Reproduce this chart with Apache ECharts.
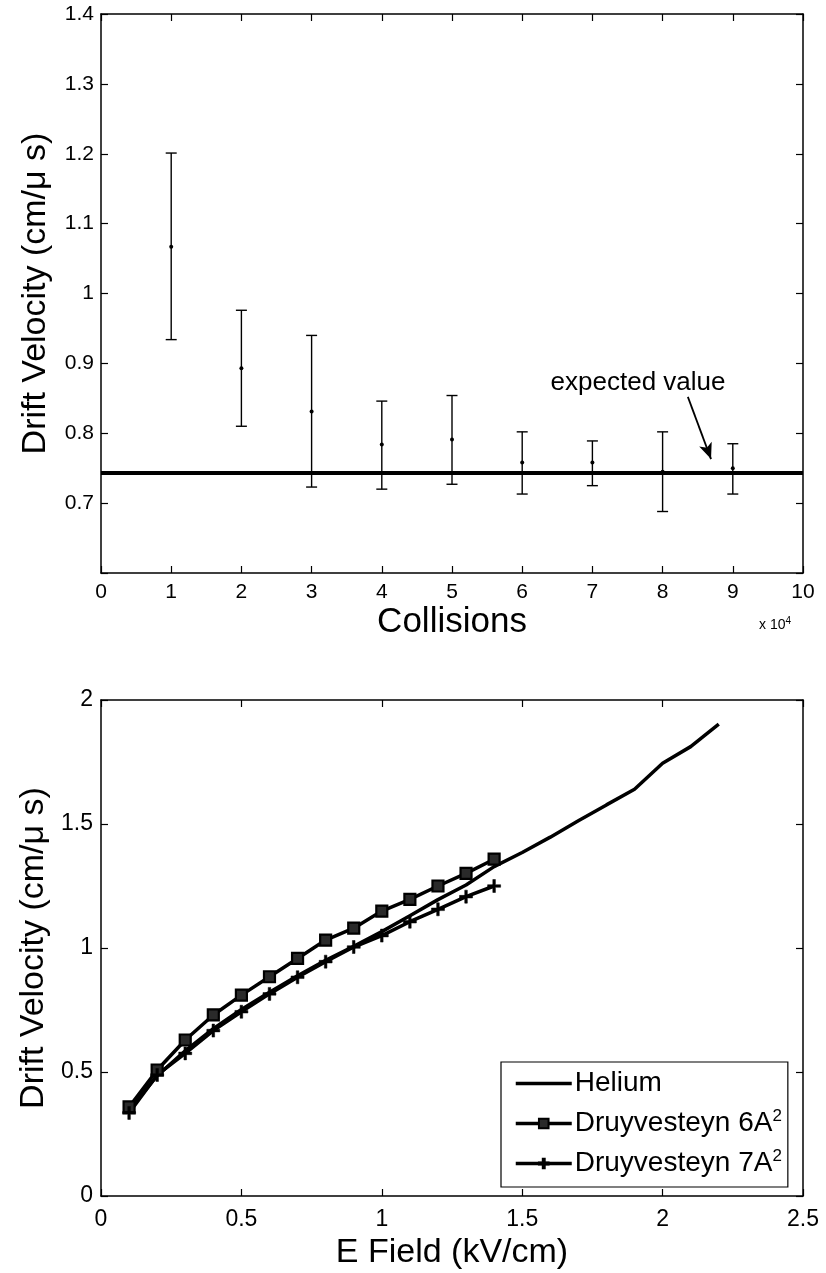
<!DOCTYPE html>
<html>
<head>
<meta charset="utf-8">
<script src="https://cdn.jsdelivr.net/npm/echarts@6/dist/echarts.min.js"></script>
<style>
html,body{margin:0;padding:0;background:#fff;}
#chart{width:826px;height:1273px;}
</style>
</head>
<body>
<div id="chart"></div>
<script>
// ---- Top plot: drift velocity vs collisions ----
const collisions = [10000, 20000, 30000, 40000, 50000, 60000, 70000, 80000, 90000];
const meanVel = [1.067, 0.893, 0.831, 0.784, 0.791, 0.758, 0.758, 0.745, 0.750];
const lowVel  = [0.934, 0.810, 0.723, 0.720, 0.727, 0.713, 0.725, 0.688, 0.713];
const highVel = [1.201, 0.976, 0.940, 0.846, 0.854, 0.802, 0.789, 0.802, 0.785];
const expectedValue = 0.743;
const collisionTicks = [0, 1, 2, 3, 4, 5, 6, 7, 8, 9, 10];

// ---- Bottom plot: drift velocity vs E field ----
const heliumField = [0.1,0.2,0.3,0.4,0.5,0.6,0.7,0.8,0.9,1.0,1.1,1.2,1.3,1.4,1.5,1.6,1.7,1.8,1.9,2.0,2.1,2.2];
const heliumVel   = [0.345,0.485,0.585,0.675,0.752,0.822,0.888,0.950,1.007,1.066,1.130,1.195,1.254,1.328,1.385,1.447,1.513,1.577,1.640,1.745,1.812,1.903];
const druyField = [0.1,0.2,0.3,0.4,0.5,0.6,0.7,0.8,0.9,1.0,1.1,1.2,1.3,1.4];
const druy6Vel  = [0.359,0.508,0.629,0.730,0.810,0.884,0.958,1.032,1.080,1.149,1.196,1.250,1.301,1.358];
const druy7Vel  = [0.335,0.488,0.575,0.667,0.743,0.815,0.882,0.945,1.004,1.050,1.106,1.156,1.207,1.250];

const FONT = '"Liberation Sans", Arial, Helvetica, sans-serif';
const BLACK = '#000';

function fmt1(v){ return String(Number(v.toFixed(2))); }

const axisLineStyle = { onZero: false, lineStyle: { color: BLACK, width: 1.5 } };
const tickIn = { show: true, inside: true, length: 7, lineStyle: { color: BLACK, width: 1.2 } };

const chart = echarts.init(document.getElementById('chart'), null, { renderer: 'canvas' });

const errData = collisions.map((c, i) => [c, meanVel[i], lowVel[i], highVel[i]]);

const option = {
  backgroundColor: '#fff',
  animation: false,
  textStyle: { fontFamily: FONT, color: BLACK },
  grid: [
    { left: 101, top: 14, width: 702, height: 559 },
    { left: 101, top: 700, width: 702, height: 496 }
  ],
  xAxis: [
    { gridIndex: 0, type: 'value', min: 0, max: 100000, interval: 10000, position: 'bottom',
      axisLine: axisLineStyle, axisTick: tickIn, splitLine: { show: false },
      axisLabel: { fontSize: 21, color: BLACK, margin: 9, fontFamily: FONT, formatter: v => String(Math.round(v / 10000)) },
      name: 'Collisions', nameLocation: 'middle', nameGap: 32,
      nameTextStyle: { fontSize: 35, color: BLACK, fontFamily: FONT } },
    { gridIndex: 0, type: 'value', min: 0, max: 100000, interval: 10000, position: 'top',
      axisLine: axisLineStyle, axisTick: tickIn, axisLabel: { show: false }, splitLine: { show: false } },
    { gridIndex: 1, type: 'value', min: 0, max: 2.5, interval: 0.5, position: 'bottom',
      axisLine: axisLineStyle, axisTick: tickIn, splitLine: { show: false },
      axisLabel: { fontSize: 23, color: BLACK, margin: 12, fontFamily: FONT, formatter: v => fmt1(v) },
      name: 'E Field (kV/cm)', nameLocation: 'middle', nameGap: 40,
      nameTextStyle: { fontSize: 34, color: BLACK, fontFamily: FONT } },
    { gridIndex: 1, type: 'value', min: 0, max: 2.5, interval: 0.5, position: 'top',
      axisLine: axisLineStyle, axisTick: tickIn, axisLabel: { show: false }, splitLine: { show: false } }
  ],
  yAxis: [
    { gridIndex: 0, type: 'value', min: 0.6, max: 1.4, interval: 0.1, position: 'left',
      axisLine: axisLineStyle, axisTick: tickIn, splitLine: { show: false },
      axisLabel: { fontSize: 21, color: BLACK, margin: 7, fontFamily: FONT, formatter: v => (v < 0.65 ? '' : fmt1(v)) },
      name: 'Drift Velocity (cm/\u03bc s)', nameLocation: 'middle', nameGap: 48, nameRotate: 90,
      nameTextStyle: { fontSize: 34, color: BLACK, fontFamily: FONT } },
    { gridIndex: 0, type: 'value', min: 0.6, max: 1.4, interval: 0.1, position: 'right',
      axisLine: axisLineStyle, axisTick: tickIn, axisLabel: { show: false }, splitLine: { show: false } },
    { gridIndex: 1, type: 'value', min: 0, max: 2, interval: 0.5, position: 'left',
      axisLine: axisLineStyle, axisTick: tickIn, splitLine: { show: false },
      axisLabel: { fontSize: 23, color: BLACK, margin: 8, fontFamily: FONT, formatter: v => fmt1(v) },
      name: 'Drift Velocity (cm/\u03bc s)', nameLocation: 'middle', nameGap: 48, nameRotate: 90,
      nameTextStyle: { fontSize: 34, color: BLACK, fontFamily: FONT } },
    { gridIndex: 1, type: 'value', min: 0, max: 2, interval: 0.5, position: 'right',
      axisLine: axisLineStyle, axisTick: tickIn, axisLabel: { show: false }, splitLine: { show: false } }
  ],
  legend: {
    data: [
      { name: 'Helium', itemStyle: { opacity: 0 } },
      { name: 'Druyvesteyn 6A2' },
      { name: 'Druyvesteyn 7A2' }
    ],
    orient: 'vertical',
    left: 501, top: 1062,
    padding: [6, 6, 8, 13],
    itemGap: 9,
    itemWidth: 56, itemHeight: 12,
    backgroundColor: '#fff',
    borderColor: BLACK, borderWidth: 1.2, borderRadius: 0,
    inactiveColor: BLACK,
    lineStyle: { width: 3.5, color: BLACK },
    formatter: function (name) {
      if (name === 'Helium') return '{t|Helium}';
      if (name === 'Druyvesteyn 6A2') return '{t|Druyvesteyn 6A}{s|2}';
      return '{t|Druyvesteyn 7A}{s|2}';
    },
    textStyle: {
      color: BLACK, fontFamily: FONT, fontSize: 28, lineHeight: 31, padding: [0, 0, 0, -2],
      rich: {
        t: { fontSize: 28, fontFamily: FONT, color: BLACK, lineHeight: 31 },
        s: { fontSize: 17, fontFamily: FONT, color: BLACK, verticalAlign: 'top', lineHeight: 31, padding: [0, 0, 12, 0] }
      }
    }
  },
  series: [
    {
      name: 'errorbars', type: 'custom', xAxisIndex: 0, yAxisIndex: 0,
      data: errData, encode: { x: 0, y: [1, 2, 3] }, z: 3,
      renderItem: function (params, api) {
        const x = api.value(0);
        const pM = api.coord([x, api.value(1)]);
        const pL = api.coord([x, api.value(2)]);
        const pH = api.coord([x, api.value(3)]);
        const cw = 5.5;
        const st = { stroke: BLACK, lineWidth: 1.4 };
        return {
          type: 'group',
          children: [
            { type: 'line', shape: { x1: pH[0], y1: pH[1], x2: pL[0], y2: pL[1] }, style: st },
            { type: 'line', shape: { x1: pH[0] - cw, y1: pH[1], x2: pH[0] + cw, y2: pH[1] }, style: st },
            { type: 'line', shape: { x1: pL[0] - cw, y1: pL[1], x2: pL[0] + cw, y2: pL[1] }, style: st },
            { type: 'circle', shape: { cx: pM[0], cy: pM[1], r: 2 }, style: { fill: BLACK } }
          ]
        };
      }
    },
    {
      name: 'expected', type: 'line', xAxisIndex: 0, yAxisIndex: 0,
      data: [[0, expectedValue], [100000, expectedValue]],
      symbol: 'none', lineStyle: { color: BLACK, width: 4 }, z: 4,
      markLine: {
        silent: true, symbol: ['none', 'arrow'], symbolSize: [10, 16],
        label: { show: false },
        lineStyle: { color: BLACK, width: 1.8, type: 'solid' },
        data: [[{ coord: [83600, 0.852] }, { coord: [86900, 0.763] }]]
      },
      markPoint: {
        silent: true, symbol: 'circle', symbolSize: 0,
        label: { show: true, position: 'inside', formatter: 'expected value', fontSize: 26, color: BLACK, fontFamily: FONT },
        data: [{ coord: [76500, 0.872] }]
      }
    },
    {
      name: 'Helium', type: 'line', xAxisIndex: 2, yAxisIndex: 2,
      data: heliumField.map((x, i) => [x, heliumVel[i]]),
      symbol: 'none', showSymbol: false,
      lineStyle: { color: BLACK, width: 3.5 }, itemStyle: { color: BLACK }, z: 3
    },
    {
      name: 'Druyvesteyn 6A2', type: 'line', xAxisIndex: 2, yAxisIndex: 2,
      data: druyField.map((x, i) => [x, druy6Vel[i]]),
      symbol: 'rect', symbolSize: 11,
      lineStyle: { color: BLACK, width: 3.5 },
      itemStyle: { color: '#2a2a2a', borderColor: BLACK, borderWidth: 2.2 }, z: 4
    },
    {
      name: 'Druyvesteyn 7A2', type: 'line', xAxisIndex: 2, yAxisIndex: 2,
      data: druyField.map((x, i) => [x, druy7Vel[i]]),
      symbol: 'path://M4,0H6V4H10V6H6V10H4V6H0V4H4Z', symbolSize: 13,
      lineStyle: { color: BLACK, width: 3.5 },
      itemStyle: { color: BLACK, borderColor: BLACK, borderWidth: 0.5 }, z: 4
    }
  ],
  graphic: [
    {
      type: 'text', left: 759, top: 616,
      style: {
        text: '{a|x 10}{b|4}', fontFamily: FONT, fill: BLACK,
        rich: {
          a: { fontSize: 14, fontFamily: FONT, fill: BLACK, lineHeight: 18 },
          b: { fontSize: 10, fontFamily: FONT, fill: BLACK, verticalAlign: 'top', lineHeight: 18, padding: [0, 0, 6, 0] }
        }
      }
    }
  ]
};

chart.setOption(option);
</script>
</body>
</html>
